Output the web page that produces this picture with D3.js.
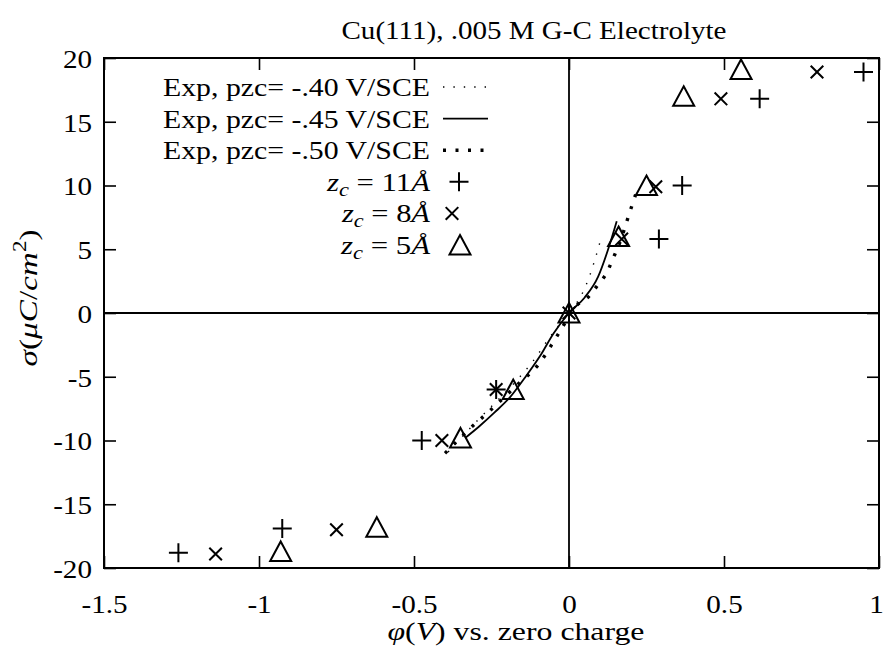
<!DOCTYPE html>
<html>
<head>
<meta charset="utf-8">
<script src="https://cdn.jsdelivr.net/npm/d3@7"></script>
<style>
  html, body { margin: 0; padding: 0; background: #fff; }
  svg text { font-family: "Liberation Serif", "Times New Roman", serif; fill: #000; }
</style>
</head>
<body>
<svg id="chart" width="883" height="647"></svg>
<script>
// ---------- data ----------
const xTicks = [-1.5, -1, -0.5, 0, 0.5, 1];
const xTickLabels = ["-1.5", "-1", "-0.5", "0", "0.5", "1"];
const yTicks = [-20, -15, -10, -5, 0, 5, 10, 15, 20];
const yTickLabels = ["-20", "-15", "-10", "-5", "0", "5", "10", "15", "20"];

// Experimental curves (phi in V vs zero charge, sigma in uC/cm^2)
const exp40X = [-0.39, -0.29, -0.2, -0.12, -0.05, 0, 0.04, 0.065, 0.085, 0.105];
const exp40Y = [-10.9, -8.3, -6.1, -3.9, -1.5, 0, 1.4, 2.8, 4.3, 6.0];
const exp45X = [-0.335, -0.29, -0.24, -0.19, -0.14, -0.094, -0.05, 0, 0.05, 0.094, 0.125, 0.154];
const exp45Y = [-9.8, -8.9, -7.8, -6.6, -5.0, -3.4, -1.6, 0, 1.2, 2.85, 4.9, 7.2];
const exp50X = [-0.40, -0.33, -0.25, -0.17, -0.094, -0.045, -0.02, 0.01, 0.068, 0.095, 0.122, 0.14, 0.165, 0.188, 0.204, 0.215];
const exp50Y = [-11.0, -9.3, -7.55, -5.7, -3.9, -2.06, -1.07, 0.2, 1.41, 2.27, 3.16, 4.16, 5.6, 7.3, 8.5, 9.3];

// Model points
const z11X = [-1.26, -0.925, -0.475, -0.235, 0, 0.29, 0.365, 0.615, 0.95];
const z11Y = [-18.8, -16.9, -10.0, -6.0, 0, 5.8, 10.0, 16.8, 18.9];
const z8X = [-1.14, -0.75, -0.41, -0.235, 0, 0.17, 0.28, 0.49, 0.80];
const z8Y = [-18.9, -17.0, -10.0, -6.0, 0, 5.8, 9.9, 16.8, 18.9];
const z5X = [-0.93, -0.62, -0.35, -0.18, 0, 0.16, 0.25, 0.37, 0.555];
const z5Y = [-18.7, -16.8, -9.8, -6.0, 0, 6.0, 10.0, 17.0, 19.1];

const titleText = "Cu(111), .005 M G-C Electrolyte";
const expLabels = ["Exp, pzc= -.40 V/SCE", "Exp, pzc= -.45 V/SCE", "Exp, pzc= -.50 V/SCE"];
const zLabels = ["11", "8", "5"];

// ---------- setup ----------
const svg = d3.select("#chart");
const L = 104, R = 879, T = 58, B = 568;
const x = d3.scaleLinear().domain([-1.5, 1]).range([L, R]);
const y = d3.scaleLinear().domain([-20, 20]).range([B, T]);
const FS = 26;

function stretch(sel, factor, fixed) {
  sel.each(function () {
    const l = fixed || this.getComputedTextLength() * factor;
    this.setAttribute("textLength", l);
    this.setAttribute("lengthAdjust", "spacingAndGlyphs");
  });
}

svg.append("rect").attr("width", 883).attr("height", 647).attr("fill", "#fff");

// zero lines
svg.append("line").attr("x1", x(0)).attr("x2", x(0)).attr("y1", T).attr("y2", B)
  .attr("stroke", "#000").attr("stroke-width", 1.8);
svg.append("line").attr("x1", L).attr("x2", R).attr("y1", y(0)).attr("y2", y(0))
  .attr("stroke", "#000").attr("stroke-width", 1.8);

// axes (ticks inward)
function styleAxis(g) {
  g.select(".domain").remove();
  g.selectAll(".tick line").attr("stroke", "#000").attr("stroke-width", 1.6);
}
const fmtX = d => xTickLabels[xTicks.indexOf(d)];
const fmtY = d => yTickLabels[yTicks.indexOf(d)];

const gB = svg.append("g").attr("transform", `translate(0,${B})`)
  .call(d3.axisBottom(x).tickValues(xTicks).tickFormat(fmtX).tickSize(-12).tickPadding(0));
styleAxis(gB);
gB.selectAll(".tick text").attr("y", 45).attr("dy", null)
  .style("font-family", "Liberation Serif").style("font-size", FS + "px").attr("fill", "#000")
  .attr("x", d => d === 1 ? -3 : 0);
stretch(gB.selectAll(".tick text"), 1.12);

const gT = svg.append("g").attr("transform", `translate(0,${T})`)
  .call(d3.axisTop(x).tickValues(xTicks).tickFormat("").tickSize(-12));
styleAxis(gT);

const gL = svg.append("g").attr("transform", `translate(${L},0)`)
  .call(d3.axisLeft(y).tickValues(yTicks).tickFormat(fmtY).tickSize(-12).tickPadding(0));
styleAxis(gL);
gL.selectAll(".tick text").attr("x", -12).attr("dy", "0.36em")
  .style("font-family", "Liberation Serif").style("font-size", FS + "px").attr("fill", "#000");
stretch(gL.selectAll(".tick text"), 1.12);

const gR = svg.append("g").attr("transform", `translate(${R},0)`)
  .call(d3.axisRight(y).tickValues(yTicks).tickFormat("").tickSize(-12));
styleAxis(gR);

// frame
svg.append("rect").attr("x", L).attr("y", T).attr("width", R - L).attr("height", B - T)
  .attr("fill", "none").attr("stroke", "#000").attr("stroke-width", 2);

// ---------- curves ----------
const line = d3.line().x(d => x(d[0])).y(d => y(d[1])).curve(d3.curveMonotoneX);
const zip = (a, b) => a.map((v, i) => [v, b[i]]);

const styles = [
  { w: 1.4, dash: "1.4 9" },     // -.40 sparse dots
  { w: 1.8, dash: null },        // -.45 solid
  { w: 3.4, dash: "3 9.5" }      // -.50 heavy dots
];
const curves = [zip(exp40X, exp40Y), zip(exp45X, exp45Y), zip(exp50X, exp50Y)];
curves.forEach((c, i) => {
  const p = svg.append("path").attr("d", line(c)).attr("fill", "none")
    .attr("stroke", "#000").attr("stroke-width", styles[i].w);
  if (styles[i].dash) p.attr("stroke-dasharray", styles[i].dash);
});

// ---------- markers ----------
function plus(g, cx, cy) {
  const s = 9.5;
  g.append("path").attr("d", `M${cx - s},${cy}H${cx + s}M${cx},${cy - s}V${cy + s}`)
    .attr("stroke", "#000").attr("stroke-width", 2).attr("fill", "none");
}
function cross(g, cx, cy) {
  const s = 6.3;
  g.append("path").attr("d", `M${cx - s},${cy - s}L${cx + s},${cy + s}M${cx - s},${cy + s}L${cx + s},${cy - s}`)
    .attr("stroke", "#000").attr("stroke-width", 2).attr("fill", "none");
}
function tri(g, cx, cy) {
  g.append("path").attr("d", `M${cx},${cy - 10}L${cx + 10.5},${cy + 9.5}L${cx - 10.5},${cy + 9.5}Z`)
    .attr("stroke", "#000").attr("stroke-width", 2).attr("fill", "none").attr("stroke-linejoin", "miter");
}
const gm = svg.append("g");
z11X.forEach((v, i) => plus(gm, x(v), y(z11Y[i])));
z8X.forEach((v, i) => cross(gm, x(v), y(z8Y[i])));
z5X.forEach((v, i) => tri(gm, x(v), y(z5Y[i])));

// ---------- legend ----------
const legRows = [87, 118.6, 150.2, 181.8, 213.4, 245];
const textEnd = 430, sx1 = 443, sx2 = 488;
const markerX = [459, 452, 460];
const gl = svg.append("g");
expLabels.forEach((t, i) => {
  const tx = gl.append("text").attr("x", textEnd).attr("y", legRows[i] + 9).attr("text-anchor", "end")
    .style("font-size", FS + "px").text(t);
  stretch(tx, 1, 267);
  const p = gl.append("line").attr("x1", sx1).attr("x2", sx2).attr("y1", legRows[i]).attr("y2", legRows[i])
    .attr("stroke", "#000").attr("stroke-width", styles[i].w);
  if (styles[i].dash) p.attr("stroke-dasharray", styles[i].dash);
});
const markerFns = [plus, cross, tri];
const zLens = [103, 88, 89];
zLabels.forEach((z, i) => {
  const row = legRows[3 + i];
  const t = gl.append("text").attr("x", textEnd).attr("y", row + 9).attr("text-anchor", "end")
    .style("font-size", FS + "px");
  t.append("tspan").style("font-style", "italic").text("z");
  t.append("tspan").style("font-style", "italic").style("font-size", "19px").attr("dy", 5).text("c");
  t.append("tspan").attr("dy", -5).text(" = " + z);
  t.append("tspan").style("font-style", "italic").text("Å");
  stretch(t, 1, zLens[i]);
  markerFns[i](gl, markerX[i], row);
});

// ---------- titles ----------
const tt = svg.append("text").attr("x", 534).attr("y", 39).attr("text-anchor", "middle")
  .style("font-size", FS + "px").text(titleText);
stretch(tt, 1, 385);

const xt = svg.append("text").attr("x", 516).attr("y", 640).attr("text-anchor", "middle")
  .style("font-size", FS + "px");
xt.append("tspan").style("font-style", "italic").text("φ");
xt.append("tspan").text("(");
xt.append("tspan").style("font-style", "italic").text("V");
xt.append("tspan").text(") vs. zero charge");
stretch(xt, 1, 257);

const yt = svg.append("text").attr("transform", "translate(37,298) rotate(-90)")
  .attr("text-anchor", "middle").style("font-size", FS + "px");
yt.append("tspan").style("font-style", "italic").text("σ");
yt.append("tspan").text("(");
yt.append("tspan").style("font-style", "italic").text("μC");
yt.append("tspan").text("/");
yt.append("tspan").style("font-style", "italic").text("cm");
yt.append("tspan").style("font-size", "18px").attr("dy", -11).text("2");
yt.append("tspan").attr("dy", 11).text(")");
stretch(yt, 1, 137);
</script>
</body>
</html>
